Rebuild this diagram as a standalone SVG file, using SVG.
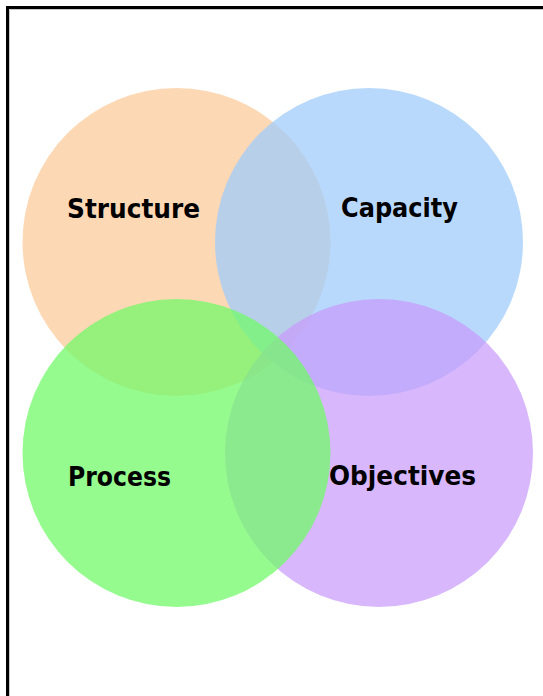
<svg xmlns="http://www.w3.org/2000/svg" width="543" height="696" viewBox="0 0 543 696">
<style>
.c{stroke:none}
.t{font-family:"DejaVu Sans","Liberation Sans",sans-serif;font-weight:bold;font-size:27px;fill:#000}
</style>
<rect width="543" height="696" fill="#fff"/>
<g id="frame">
<path d="M9.5 696V9.5H543" fill="none" stroke="#c8c8c8" stroke-width="1"/>
<path d="M7.5 696V7.5H543" fill="none" stroke="#000" stroke-width="3"/>
</g>
<g id="structure">
<circle class="c" cx="176.5" cy="242" r="154" fill="#fccb9c" fill-opacity="0.75"/>
</g>
<g id="capacity">
<circle class="c" cx="369" cy="242" r="154" fill="#a0ccfb" fill-opacity="0.75"/>
</g>
<g id="objectives">
<circle class="c" cx="379" cy="453" r="154" fill="#c899fb" fill-opacity="0.7"/>
</g>
<g id="process">
<circle class="c" cx="176.5" cy="453" r="154" fill="#71f969" fill-opacity="0.75"/>
</g>
<g id="labels">
<text class="t" x="67" y="218" textLength="133" lengthAdjust="spacingAndGlyphs">Structure</text>
<text class="t" x="341" y="217" textLength="117" lengthAdjust="spacingAndGlyphs">Capacity</text>
<text class="t" x="68" y="486" textLength="103" lengthAdjust="spacingAndGlyphs">Process</text>
<text class="t" x="329" y="485" textLength="147" lengthAdjust="spacingAndGlyphs">Objectives</text>
</g>
</svg>
